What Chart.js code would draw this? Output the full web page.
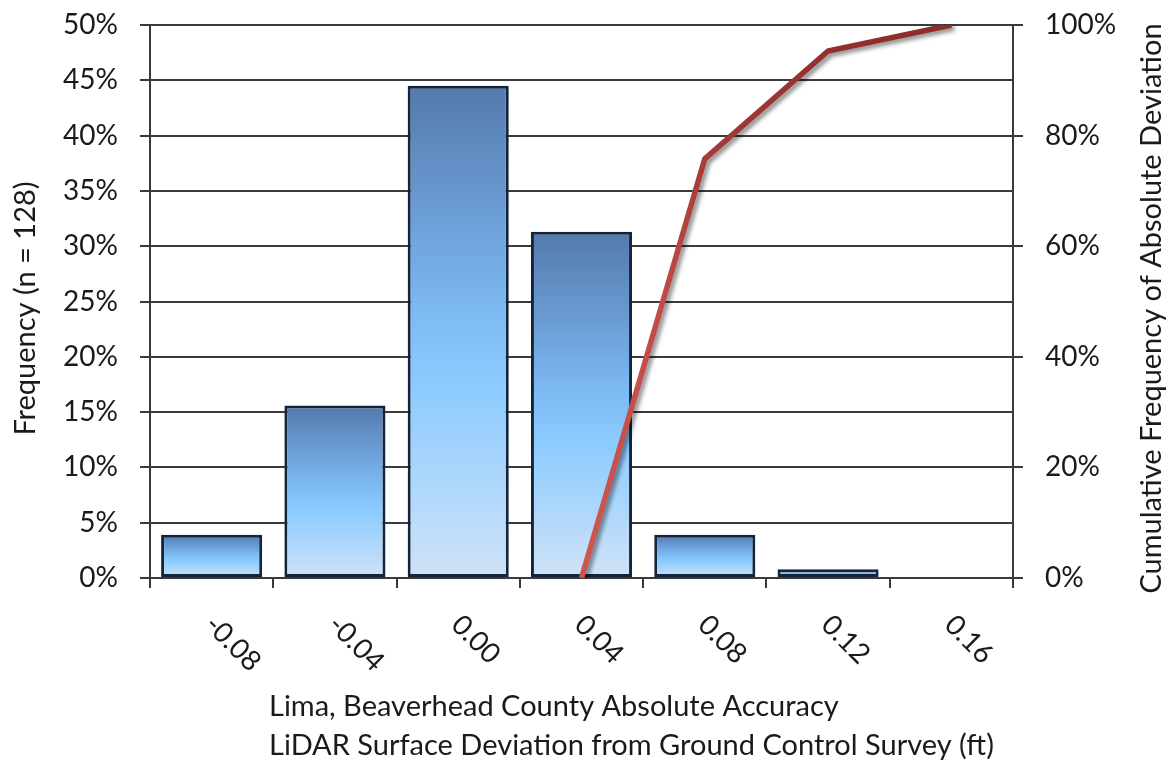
<!DOCTYPE html>
<html>
<head>
<meta charset="utf-8">
<script src="https://cdn.jsdelivr.net/npm/chart.js@4.4.1/dist/chart.umd.min.js"></script>
<style>
  html, body { margin: 0; padding: 0; background: #fff; }
  .chart { width: 1172px; height: 765px; }
</style>
</head>
<body>
<div class="chart"><canvas id="histo"></canvas></div>
<script>
const categories = ['-0.08', '-0.04', '0.00', '0.04', '0.08', '0.12', '0.16'];
const frequency = [3.9, 15.6, 44.5, 31.3, 3.9, 0.8, 0];          // % of points (n = 128)
const cumulative = [null, null, null, 0, 75.8, 95.3, 100];       // % cumulative abs deviation
const freqTicks = { min: 0, max: 50, step: 5 };
const cumTicks = { min: 0, max: 100, step: 20 };
const leftTitle = 'Frequency (n = 128)';
const rightTitle = 'Cumulative Frequency of Absolute Deviation';
const bottomTitle = ['Lima, Beaverhead County Absolute Accuracy',
                     'LiDAR Surface Deviation from Ground Control Survey (ft)'];

const FONT = 'Lato, "Open Sans", sans-serif';
const TEXT = '#1a1a1a';
const GRID = '#3a3a3a';

// bar fill, dark at the top of each bar fading to pale at its base
const barFill = (ctx) => {
  const chart = ctx.chart;
  if (!chart.chartArea) return '#7db7f0';
  const ys = chart.scales.y;
  const top = ys.getPixelForValue(ctx.raw);
  const base = ys.getPixelForValue(0);
  if (base - top < 1) return '#7db7f0';
  const g = chart.ctx.createLinearGradient(0, top, 0, base);
  g.addColorStop(0, '#5479ad');
  g.addColorStop(0.45, '#7cb8f2');
  g.addColorStop(0.62, '#8dccff');
  g.addColorStop(1, '#d0e2f7');
  return g;
};

const lineStroke = (ctx) => {
  const area = ctx.chart.chartArea;
  if (!area) return '#c0504d';
  const g = ctx.chart.ctx.createLinearGradient(0, area.top, 0, area.bottom);
  g.addColorStop(0, '#8e2c2a');
  g.addColorStop(0.5, '#c04b47');
  g.addColorStop(1, '#d0554f');
  return g;
};

// the vertical axes should not push the plot down for their label padding
const fixVertical = (width) => (s) => {
  s.width = width;
  s.paddingTop = 0;
  s.paddingBottom = 0;
};

// drop shadow under the cumulative line
const lineShadow = {
  id: 'lineShadow',
  beforeDatasetDraw(chart, args) {
    if (args.meta.type !== 'line') return;
    const c = chart.ctx;
    c.save();
    c.shadowColor = 'rgba(0,0,0,0.45)';
    c.shadowOffsetX = 3;
    c.shadowOffsetY = 3;
    c.shadowBlur = 4;
  },
  afterDatasetDraw(chart, args) {
    if (args.meta.type !== 'line') return;
    chart.ctx.restore();
  }
};

// rotated x labels and axis titles drawn by hand
const axisText = {
  id: 'axisText',
  afterDraw(chart) {
    const c = chart.ctx;
    const area = chart.chartArea;
    const xs = chart.scales.x;
    const midY = (area.top + area.bottom) / 2 + 7;
    c.save();
    c.fillStyle = TEXT;
    c.font = '28px ' + FONT;

    categories.forEach((lab, i) => {
      const x = xs.getPixelForValue(i);
      c.save();
      c.translate(x - 2, area.bottom + 42);
      c.rotate(Math.PI / 4);
      c.textAlign = 'left';
      c.textBaseline = 'middle';
      c.fillText(lab, 0, 0);
      c.restore();
    });

    c.font = '29px ' + FONT;
    c.textAlign = 'center';
    c.textBaseline = 'middle';
    c.save();
    c.translate(26, midY);
    c.rotate(-Math.PI / 2);
    c.fillText(leftTitle, 0, 0);
    c.restore();

    c.save();
    c.translate(chart.width - 20, midY);
    c.rotate(-Math.PI / 2);
    c.fillText(rightTitle, 0, 0);
    c.restore();

    // two-line x title, left aligned as a block
    const x0 = area.left + 119;
    c.textAlign = 'left';
    bottomTitle.forEach((t, i) => c.fillText(t, x0, 707 + i * 39));
    c.restore();
  }
};

new Chart(document.getElementById('histo'), {
  data: {
    labels: categories,
    datasets: [
      {
        type: 'line',
        data: cumulative,
        yAxisID: 'y1',
        order: 0,
        borderColor: lineStroke,
        borderWidth: 5.5,
        pointRadius: 0,
        tension: 0,
        fill: false,
        spanGaps: false
      },
      {
        type: 'bar',
        data: frequency,
        yAxisID: 'y',
        order: 1,
        backgroundColor: barFill,
        borderColor: '#13243b',
        borderWidth: 3,
        borderSkipped: false,
        barPercentage: 0.82,
        categoryPercentage: 1
      }
    ]
  },
  options: {
    responsive: true,
    maintainAspectRatio: false,
    animation: false,
    layout: { padding: { top: 25, left: 0, right: 0, bottom: 0 } },
    plugins: {
      legend: { display: false },
      tooltip: { enabled: false }
    },
    scales: {
      x: {
        offset: true,
        afterFit: (s) => { s.height = 187; },
        grid: { drawOnChartArea: false, drawTicks: true, tickLength: 10, color: GRID, lineWidth: 2, offset: true },
        border: { display: true, color: GRID, width: 2 },
        ticks: { display: false }
      },
      y: {
        position: 'left',
        min: freqTicks.min,
        max: freqTicks.max,
        afterFit: fixVertical(150),
        grid: { color: GRID, lineWidth: 2, tickLength: 10 },
        border: { display: true, color: GRID, width: 2 },
        ticks: {
          stepSize: freqTicks.step,
          padding: 22,
          color: TEXT,
          font: { family: FONT, size: 28 },
          callback: (v) => v + '%'
        }
      },
      y1: {
        position: 'right',
        min: cumTicks.min,
        max: cumTicks.max,
        afterFit: fixVertical(159),
        grid: { drawOnChartArea: false, color: GRID, lineWidth: 2, tickLength: 10 },
        border: { display: true, color: GRID, width: 2 },
        ticks: {
          stepSize: cumTicks.step,
          padding: 22,
          color: TEXT,
          font: { family: FONT, size: 28 },
          callback: (v) => v + '%'
        }
      }
    }
  },
  plugins: [lineShadow, axisText]
});
</script>
</body>
</html>
